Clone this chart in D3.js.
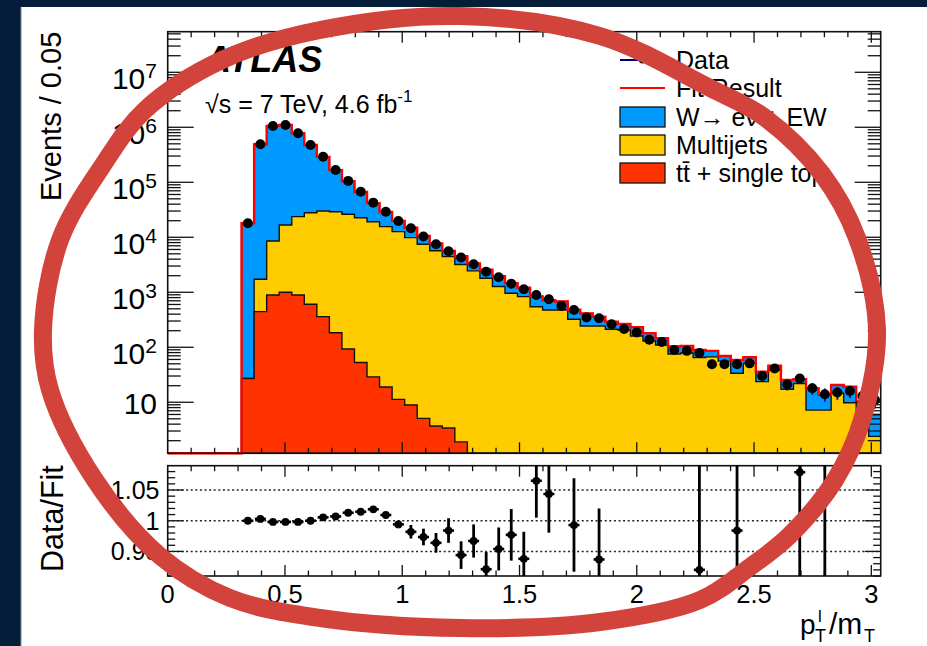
<!DOCTYPE html>
<html>
<head>
<meta charset="utf-8">
<script src="https://cdn.jsdelivr.net/npm/d3@7"></script>
<style>
  body { margin: 0; background: #041e3a; }
  svg { display: block; }
</style>
</head>
<body>
<svg id="chart" width="927" height="646"></svg>
<script>
// binning of the histograms (p_T^l / m_T)
const binStart = 0.315;
const binWidth = 0.05348;

// stacked components, events per bin
const ttbar = [27, 444, 893, 1000, 893, 605, 360, 184, 93, 53, 29, 19, 11.3, 8.9, 5.1, 3.7, 3.4, 1.9,
  0, 0, 0, 0, 0, 0, 0, 0, 0, 0, 0, 0, 0, 0, 0, 0, 0, 0, 0, 0, 0, 0, 0, 0, 0, 0, 0, 0, 0, 0, 0, 0, 0];
const multijet = [0, 1280, 7680, 15750, 22800, 27400, 29700, 29000, 26100, 22650,
  19170, 15580, 12640, 9830, 7455, 5696, 4437, 3200, 2450, 1800,
  1270, 960, 832, 547, 476, 476, 323, 244, 244, 212,
  206, 160, 130, 110, 75.5, 78.7, 65, 67, 56, 33.7,
  51, 23.7, 38.6, 17.2, 22, 7.2, 7.2, 14.6, 9.8, 6.3, 2.4];
const wEW = [17970, 488300, 1050400, 1087000, 756000, 448000, 260000, 136800, 78400, 43800,
  22600, 13300, 7250, 5030, 3120, 2040, 1210, 1343, 890, 773,
  695, 506, 378, 293, 239, 204, 157, 166, 116, 80,
  59, 71, 50, 36, 27.5, 27.3, 24, 19, 13.5, 25,
  15, 12.3, 7.4, 8.2, 4.2, 10.8, 6.4, 6, 9.4, 4, 3.5];
const data = [17990, 491000, 1057000, 1102000, 778000, 476000, 292000, 167000, 106000, 67500,
  42600, 29200, 19800, 14600, 10300, 7460, 5560, 4290, 3230, 2370,
  1875, 1432, 1135, 894, 746, 564, 477, 348, 337, 262,
  215, 186, 137, 125, 89, 86, 79, 49, 49, 49,
  51, 30, 41, 21, 27, 18, 14, 15, 16, 13, 11];

// Data / Fit (null = outside the panel)
const ratio = [1.000, 1.003, 0.998, 0.998, 0.998, 1.000, 1.0055, 1.007, 1.013, 1.0146,
  1.0186, 1.0093, 0.994, 0.982, 0.9735, 0.964, 0.984, 0.944, 0.967, 0.921,
  0.954, 0.977, 0.938, 1.065, 1.0435, null, 0.993, null, 0.937, null,
  null, null, null, null, null, null, 0.92, null, null, 0.984,
  null, null, null, null, 1.079, null, 1.16, null, null, null, null];
const ratioErr = [0.003, 0.003, 0.003, 0.003, 0.003, 0.003, 0.003, 0.003, 0.003, 0.003,
  0.003, 0.004, 0.006, 0.011, 0.0136, 0.016, 0.02, 0.0225, 0.027, 0.028,
  0.035, 0.042, 0.044, 0.06, 0.063, 0, 0.076, 0, 0.083, 0,
  0, 0, 0, 0, 0, 0, 0.3, 0, 0, 0.3,
  0, 0, 0, 0, 0.3, 0, 0.3, 0, 0, 0, 0];

const xTicks = [0, 0.5, 1, 1.5, 2, 2.5, 3];
const xTickLabels = ['0', '0.5', '1', '1.5', '2', '2.5', '3'];
const ratioTicks = [0.95, 1, 1.05];
const ratioTickLabels = ['0.95', '1', '1.05'];
const decades = [1, 2, 3, 4, 5, 6, 7];

const legendLabels = ['Data', 'Fit Result', 'W\u2192 e\u03bd + EW', 'Multijets', 'tt\u0304 + single top'];

const font = "'Liberation Sans', Arial, Helvetica, sans-serif";
const cBlue = '#0099ff', cYellow = '#ffcc00', cRed = '#ff3300';

const left = 167.7, right = 880.7;
const upTop = 31.7, upBot = 453.3;
const loTop = 465.7, loBot = 576;
const yMin = 1.18, yMax = 5.47e7;

const x = d3.scaleLinear().domain([0, 3.04]).range([left, right]);
const yUp = d3.scaleLog().domain([yMin, yMax]).range([upBot, upTop]);
const yLo = d3.scaleLinear().domain([0.91, 1.0896]).range([loBot, loTop]);

const svg = d3.select('#chart');
svg.append('rect').attr('width', 927).attr('height', 646).attr('fill', '#041e3a');
svg.append('rect').attr('x', 21).attr('y', 7).attr('width', 906).attr('height', 639)
  .attr('fill', 'white');
svg.append('line').attr('x1', 21).attr('x2', 21).attr('y1', 7).attr('y2', 646)
  .attr('stroke', '#7f8fa3').attr('stroke-width', 1);

const defs = svg.append('defs');
defs.append('clipPath').attr('id', 'clipUp').append('rect')
  .attr('x', left).attr('y', upTop).attr('width', right - left).attr('height', upBot - upTop + 2);
defs.append('clipPath').attr('id', 'clipLo').append('rect')
  .attr('x', left).attr('y', loTop).attr('width', right - left).attr('height', loBot - loTop);

// stacked sums
const s1 = ttbar.slice();
const s2 = ttbar.map((v, i) => v + multijet[i]);
const s3 = s2.map((v, i) => v + wEW[i]);

function stepPts(vals, fromZero) {
  const b = upBot;
  const pts = [];
  if (fromZero) pts.push([x(0), b]);
  pts.push([x(binStart), b]);
  vals.forEach((v, i) => {
    const lo = binStart + i * binWidth, hi = lo + binWidth;
    const yy = v > 0 ? yUp(Math.max(v, yMin)) : b;
    pts.push([x(lo), yy], [x(hi), yy]);
  });
  pts.push([x(binStart + vals.length * binWidth), b]);
  return pts;
}
const line = d3.line();

const gUp = svg.append('g').attr('clip-path', 'url(#clipUp)');
[[s3, cBlue], [s2, cYellow], [s1, cRed]].forEach(([vals, col]) => {
  gUp.append('path')
    .attr('d', line(stepPts(vals, false)) + 'Z')
    .attr('fill', col)
    .attr('stroke', '#111')
    .attr('stroke-width', 1.4);
});

// frames
function frame(t, b) {
  svg.append('rect').attr('x', left).attr('y', t).attr('width', right - left).attr('height', b - t)
    .attr('fill', 'none').attr('stroke', '#111').attr('stroke-width', 1.6);
}
frame(upTop, upBot);
frame(loTop, loBot);

// fit result line
gUp.append('path')
  .attr('d', line(stepPts(s3, true)))
  .attr('fill', 'none')
  .attr('stroke', '#ff0000')
  .attr('stroke-width', 2.4);

// data points with sqrt(N) errors
const centers = data.map((d, i) => binStart + (i + 0.5) * binWidth);
data.forEach((d, i) => {
  const e = Math.sqrt(d);
  gUp.append('line')
    .attr('x1', x(centers[i])).attr('x2', x(centers[i]))
    .attr('y1', yUp(d + e)).attr('y2', yUp(Math.max(d - e, yMin)))
    .attr('stroke', '#1a1a80').attr('stroke-width', 2);
});
gUp.selectAll('circle.data').data(data).enter().append('circle')
  .attr('class', 'data')
  .attr('cx', (d, i) => x(centers[i]))
  .attr('cy', d => yUp(d))
  .attr('r', 5)
  .attr('fill', '#000');

// ticks
const tick = (x1, y1, x2, y2) => svg.append('line')
  .attr('x1', x1).attr('y1', y1).attr('x2', x2).attr('y2', y2)
  .attr('stroke', '#111').attr('stroke-width', 1.3);

d3.range(1, 31).forEach(k => {
  const xx = x(k / 10);
  const len = k % 5 === 0 ? 11 : 5.5;
  tick(xx, upBot, xx, upBot - len);
  tick(xx, upTop, xx, upTop + len);
  tick(xx, loBot, xx, loBot - len);
  tick(xx, loTop, xx, loTop + len);
});

d3.range(0, 8).forEach(d => {
  d3.range(1, 10).forEach(m => {
    const v = m * Math.pow(10, d);
    if (v < yMin || v > yMax) return;
    const yy = yUp(v);
    const len = m === 1 ? 26 : 13;
    tick(left, yy, left + len, yy);
    tick(right, yy, right - len, yy);
  });
});

d3.range(91, 109).forEach(k => {
  const yy = yLo(k / 100);
  const len = k % 5 === 0 ? 16 : 7.5;
  tick(left, yy, left + len, yy);
  tick(right, yy, right - len, yy);
});

// ratio panel
ratioTicks.forEach(t => {
  svg.append('line')
    .attr('x1', left).attr('x2', right).attr('y1', yLo(t)).attr('y2', yLo(t))
    .attr('stroke', '#222').attr('stroke-width', 1.4).attr('stroke-dasharray', '2,2.6');
});
const gLo = svg.append('g').attr('clip-path', 'url(#clipLo)');
ratio.forEach((r, i) => {
  if (r === null) return;
  const cx = x(centers[i]);
  gLo.append('line')
    .attr('x1', cx).attr('x2', cx)
    .attr('y1', yLo(r + ratioErr[i])).attr('y2', yLo(r - ratioErr[i]))
    .attr('stroke', '#000').attr('stroke-width', 2.8);
  gLo.append('line')
    .attr('x1', cx - 5.5).attr('x2', cx + 5.5)
    .attr('y1', yLo(r)).attr('y2', yLo(r))
    .attr('stroke', '#000').attr('stroke-width', 2.6);
  gLo.append('circle')
    .attr('cx', cx).attr('cy', yLo(r)).attr('r', 3.9).attr('fill', '#000');
});

// tick labels
decades.forEach(d => {
  const t = svg.append('text')
    .attr('x', 157).attr('text-anchor', 'end')
    .attr('font-family', font).attr('font-size', 30).attr('fill', '#000');
  if (d === 1) {
    t.attr('y', yUp(10) + 11.5).text('10');
  } else {
    t.attr('y', yUp(Math.pow(10, d)) + 16.5);
    t.append('tspan').text('10');
    t.append('tspan').attr('dy', -10.5).attr('font-size', 21).text(d);
  }
});
ratioTicks.forEach((t, i) => {
  svg.append('text')
    .attr('x', 159.5).attr('y', yLo(t) + 9)
    .attr('text-anchor', 'end')
    .attr('font-family', font).attr('font-size', 25)
    .text(ratioTickLabels[i]);
});
xTicks.forEach((t, i) => {
  svg.append('text')
    .attr('x', x(t)).attr('y', 602.5)
    .attr('text-anchor', 'middle')
    .attr('font-family', font).attr('font-size', 25.5)
    .text(xTickLabels[i]);
});

// axis titles
svg.append('text')
  .attr('transform', 'translate(61,' + upTop + ') rotate(-90)')
  .attr('text-anchor', 'end')
  .attr('font-family', font).attr('font-size', 29)
  .text('Events / 0.05');
svg.append('text')
  .attr('transform', 'translate(63,' + (loTop - 0.5) + ') rotate(-90)')
  .attr('text-anchor', 'end')
  .attr('font-family', font).attr('font-size', 30.5)
  .text('Data/Fit');

const xt = (tx, ty, size, s) => svg.append('text')
  .attr('x', tx).attr('y', ty).attr('font-family', font).attr('font-size', size).text(s);
xt(800, 634, 28, 'p');
xt(815, 642, 18, 'T');
xt(818, 622, 17, 'l');
xt(829, 634, 30, '/m');
xt(864, 642, 18, 'T');

// ATLAS label
svg.append('text')
  .attr('x', 205).attr('y', 72)
  .attr('font-family', font).attr('font-size', 36)
  .attr('font-weight', 'bold').attr('font-style', 'italic')
  .text('ATLAS');
const en = svg.append('text')
  .attr('x', 205).attr('y', 113)
  .attr('font-family', font).attr('font-size', 25);
en.append('tspan').text('\u221As = 7 TeV, 4.6 fb');
en.append('tspan').attr('dy', -11).attr('font-size', 17).text('-1');

// legend
const legX = 620, legW = 45, legTx = 676;
const rows = [60, 88, 117, 145, 173];
svg.append('line').attr('x1', legX).attr('x2', legX + legW).attr('y1', rows[0]).attr('y2', rows[0])
  .attr('stroke', '#00007a').attr('stroke-width', 2.2);
svg.append('circle').attr('cx', legX + legW / 2).attr('cy', rows[0]).attr('r', 3.6).attr('fill', '#000');
svg.append('line').attr('x1', legX).attr('x2', legX + legW).attr('y1', rows[1]).attr('y2', rows[1])
  .attr('stroke', '#ff0000').attr('stroke-width', 2.2);
[cBlue, cYellow, cRed].forEach((c, i) => {
  svg.append('rect')
    .attr('x', legX).attr('y', rows[i + 2] - 10).attr('width', legW).attr('height', 20)
    .attr('fill', c).attr('stroke', '#111').attr('stroke-width', 1.3);
});
legendLabels.forEach((s, i) => {
  svg.append('text')
    .attr('x', legTx).attr('y', rows[i] + 9)
    .attr('font-family', font).attr('font-size', 25)
    .text(s);
});

// red hand-drawn ring over the figure (annotation, page pixels)
const ringPts = [[460, 16], [600, 36], [710, 88], [764, 117], [822, 174], [857, 238], [877, 330],
  [862, 420], [835, 480], [790, 535], [750, 567], [700, 600], [600, 622], [460, 628],
  [320, 618], [230, 598], [160, 556], [95, 480], [50, 390], [43, 330], [60, 240],
  [103, 165], [145, 110], [222, 60], [320, 30]];
svg.append('path')
  .attr('d', d3.line().curve(d3.curveCatmullRomClosed.alpha(0.5))(ringPts))
  .attr('fill', 'none')
  .attr('stroke', '#d2433c')
  .attr('stroke-width', 18);
</script>
</body>
</html>
